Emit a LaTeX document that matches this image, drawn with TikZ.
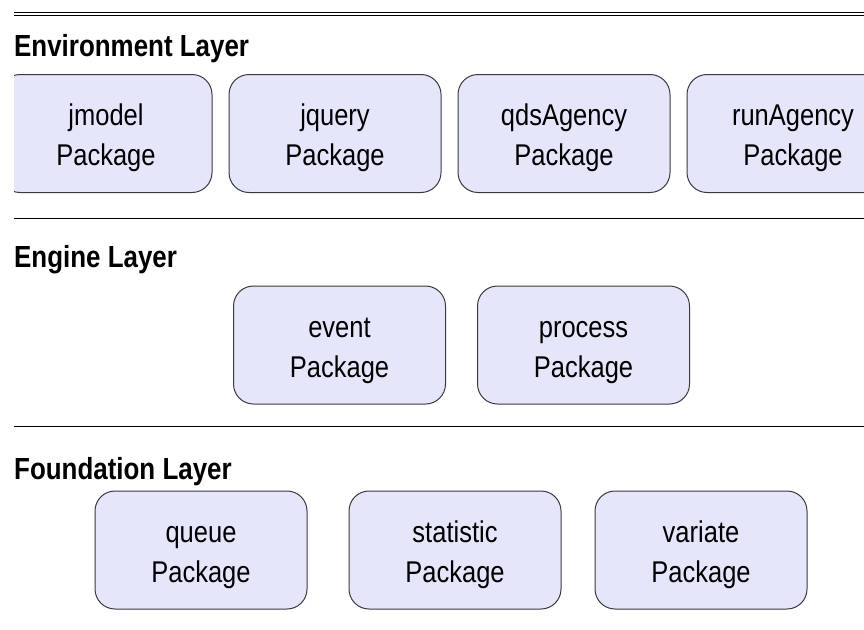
\documentclass[tikz,border=0pt]{standalone}
\usepackage{fontspec}
\setmainfont{Liberation Sans}[FakeStretch=0.85]
\usetikzlibrary{positioning}
\definecolor{pkgfill}{HTML}{E6E6FA}
\definecolor{pkgedge}{HTML}{3A3A3A}
\newcommand\pkglabel[1]{\rule{0pt}{36pt}#1\\\strut Package}
\tikzset{
  pkgnode/.style={
    draw=pkgedge,
    fill=pkgfill,
    rounded corners=20pt,
    line width=1pt,
    align=center,
    minimum width=212pt,
    minimum height=118pt,
    inner sep=0pt,
    font=\fontsize{30}{40}\selectfont
  },
  layertitle/.style={anchor=base west,inner sep=0pt,font=\bfseries\fontsize{30.5}{36}\selectfont},
  layerrule/.style={double,double distance=2pt,line width=0.9pt,draw=black}
}
\begin{document}
\begin{tikzpicture}[x=1pt,y=-1pt]
  \useasboundingbox (0,0) rectangle (864,629);

  % layer separators
  \coordinate (envrule) at (14,14);
  \coordinate (engrule) at (14,219.5);
  \coordinate (fndrule) at (14,427.5);
  \draw[layerrule] (envrule) -- (envrule -| 864,0);
  \draw[layerrule] (engrule) -- (engrule -| 864,0);
  \draw[layerrule] (fndrule) -- (fndrule -| 864,0);

  % environment layer
  \node[layertitle] (envtitle) at (14,56) {Environment Layer};
  \begin{scope}
    \clip (14,0) rectangle (864,629);
    \node[pkgnode] (jmodel) at (106,133.5) {\pkglabel{jmodel}};
    \node[pkgnode,right=16pt of jmodel] (jquery) {\pkglabel{jquery}};
    \node[pkgnode,right=16pt of jquery] (qdsagency) {\pkglabel{qdsAgency}};
    \node[pkgnode,right=16pt of qdsagency] (runagency) {\pkglabel{runAgency}};
  \end{scope}

  % engine layer
  \node[layertitle] (engtitle) at (14,267) {Engine Layer};
  \node[pkgnode] (event) at (339.5,345) {\pkglabel{event}};
  \node[pkgnode,right=31pt of event] (process) {\pkglabel{process}};

  % foundation layer
  \node[layertitle] (fndtitle) at (14,479) {Foundation Layer};
  \node[pkgnode] (queue) at (201,550) {\pkglabel{queue}};
  \node[pkgnode,right=41pt of queue] (statistic) {\pkglabel{statistic}};
  \node[pkgnode,right=33pt of statistic] (variate) {\pkglabel{variate}};
\end{tikzpicture}
\end{document}
